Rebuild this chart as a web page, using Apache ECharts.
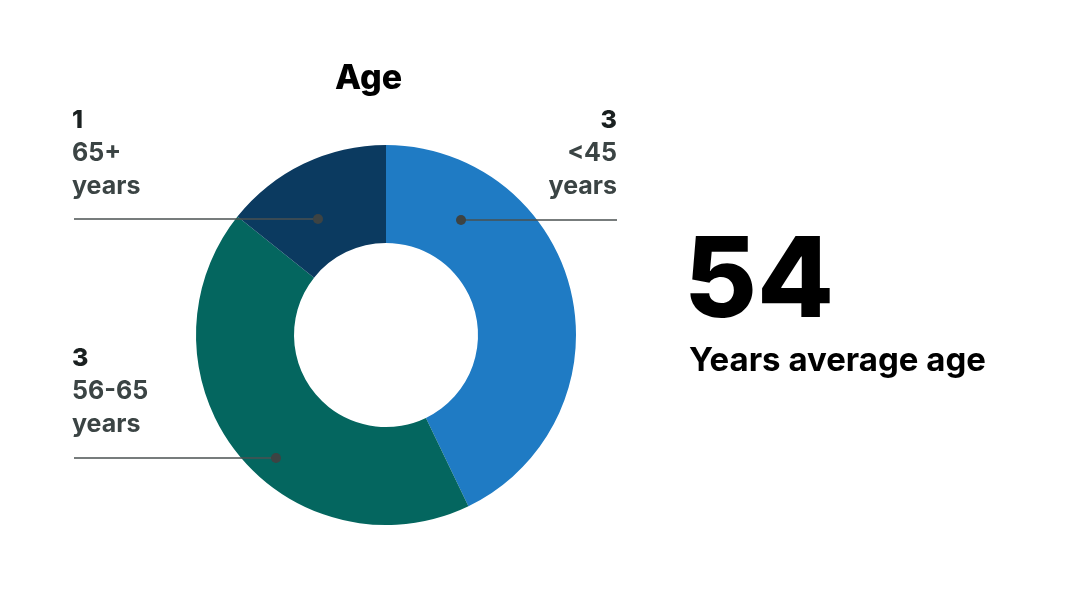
<!DOCTYPE html>
<html><head><meta charset="utf-8">
<script src="https://cdn.jsdelivr.net/npm/echarts@6/dist/echarts.min.js"></script>
<style>html,body{margin:0;padding:0;background:#fff}#c{width:1082px;height:589px}</style>
</head><body><div id="c"></div>
<script>
const categories = ['<45', '56-65', '65+'];
const values = [3, 3, 1];
const colors = ['#1f7bc4', '#04665f', '#0b3a60'];
const avgAge = '54';
const avgLabel = 'Years average age';
const title = 'Age';

const FONT = 'Inter, "Open Sans", sans-serif';
// label layout: text anchor and leader line (dot -> end)
const layouts = [
  {x: 617, y: 104, align: 'right', line: [[461, 220], [617, 220]]},
  {x: 72, y: 342, align: 'left', line: [[276, 458], [74, 458]]},
  {x: 72, y: 104, align: 'left', line: [[318, 219], [74, 219]]}
];

const chart = echarts.init(document.getElementById('c'));
chart.setOption({
  animation: false,
  title: {text: title, left: 330, top: 57,
    textStyle: {fontFamily: FONT, fontWeight: 800, fontSize: 34, color: '#000'}},
  series: [{
    type: 'pie',
    center: [386, 335],
    radius: [92, 190],
    startAngle: 90,
    clockwise: true,
    silent: true,
    data: categories.map((c, i) => ({name: c, value: values[i], itemStyle: {color: colors[i]}})),
    label: {
      show: true,
      formatter: p => '{v|' + p.value + '}\n{n|' + p.name + '}\n{n|years}',
      rich: {
        v: {fontFamily: FONT, fontWeight: 800, fontSize: 25, lineHeight: 33, color: '#1a2020'},
        n: {fontFamily: FONT, fontWeight: 700, fontSize: 25, lineHeight: 33, color: '#3b4444'}
      }
    },
    labelLine: {show: false},
    labelLayout: p => {
      const l = layouts[p.dataIndex];
      return {x: l.x, y: l.y, align: l.align, verticalAlign: 'top'};
    }
  }],
  graphic: [
    ...layouts.map(l => ({type: 'polyline', shape: {points: l.line}, style: {stroke: '#4a5050', lineWidth: 1.5}, z: 99})),
    ...layouts.map(l => ({type: 'circle', shape: {cx: l.line[0][0], cy: l.line[0][1], r: 5}, style: {fill: '#3d4343'}, z: 100})),
    {type: 'text', left: 684, top: 227, style: {text: avgAge, fontFamily: FONT, fontWeight: 800, fontSize: 112, fill: '#000'}},
    {type: 'text', left: 689, top: 345, style: {text: avgLabel, fontFamily: FONT, fontWeight: 700, fontSize: 33, fill: '#000'}}
  ]
});
</script></body></html>
